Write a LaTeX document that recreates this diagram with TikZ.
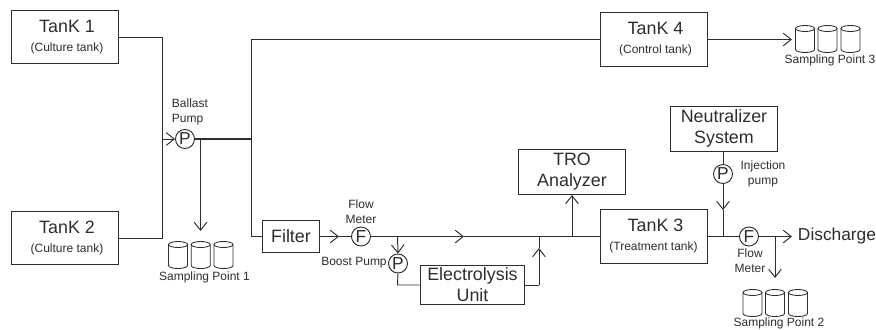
\documentclass[tikz,border=0pt]{standalone}
\usepackage{fontspec}
\setmainfont{Liberation Sans}
\usepackage{xcolor}
\definecolor{pipegray}{RGB}{45,45,45}
\usepackage{tikz}
\usetikzlibrary{arrows.meta}
\newcommand{\smalltext}{\fontsize{9}{11}\selectfont}
\tikzset{
pipe/.style={draw=pipegray,line width=0.72pt},
chevron/.style={pipe,-{Straight Barb[length=6pt,width=9.5pt]}},
tankbox/.style={draw=pipegray,line width=0.72pt,text=pipegray,minimum width=80.25pt,minimum height=40pt,inner sep=0pt,align=center,font=\fontsize{13.4}{15.75}\selectfont},
unitbox/.style={tankbox,minimum height=33.75pt},
roundnode/.style={circle,draw=pipegray,line width=0.72pt,text=pipegray,minimum size=14.25pt,inner sep=0pt,font=\fontsize{13}{14}\selectfont},
caption/.style={text=pipegray,inner sep=0pt,align=center,font=\fontsize{9}{11}\selectfont},
drum/.pic={
\draw [pipe,line width=0.65pt] (-9.5,-10.5) -- (-9.5,10.5) arc [start angle=180,end angle=0,x radius=9.5,y radius=3] -- (9.5,-10.5);
\draw [pipe,line width=0.65pt] (0,-10.5) ellipse [x radius=9.5,y radius=3];
}
}

\begin{document}
\begin{tikzpicture}[x=0.75pt,y=-0.75pt]
\useasboundingbox (0,0) rectangle (876,329);

\node (tank1) at (65,37.25) [tankbox] {\hspace*{3pt}TanK 1\\[-1.5pt]{\smalltext\hspace*{3pt}(Culture tank)}};
\node (tank2) at (65,238.25) [tankbox] {\hspace*{3pt}TanK 2\\[-1.5pt]{\smalltext\hspace*{3pt}(Culture tank)}};
\node (tank4) at (653.5,39.5) [tankbox] {\hspace*{3pt}TanK 4\\[-1.5pt]{\smalltext\hspace*{3pt}(Control tank)}};
\node (tank3) at (653.5,236.5) [tankbox] {\hspace*{3pt}TanK 3\\[-1.5pt]{\smalltext (Treatment tank)}};
\node (neutralizer) at (724,128.5) [unitbox] {Neutralizer\\System};
\node (troAnalyzer) at (572,172) [unitbox] {TRO\\Analyzer};
\node (filter) at (291,236.5) [tankbox,minimum width=43pt,minimum height=24.5pt] {Filter};
\node (electrolysis) at (472.5,285) [unitbox,minimum width=78.5pt,minimum height=29pt] {Electrolysis\\Unit};

\node (ballastPump) at (185,139) [roundnode] {P};
\node (flowMeterA) at (361,236.5) [roundnode] {F};
\node (boostPump) at (398,263.5) [roundnode] {P};
\node (injectionPump) at (723,174) [roundnode] {P};
\node (flowMeterB) at (749,236.5) [roundnode] {F};

\node (ballastLabel) at (190,112) [caption,align=left] {Ballast\\Pump};
\node (flowLabelA) at (361,212) [caption] {Flow\\Meter};
\node (boostLabel) at (354,263) [caption] {Boost Pump};
\node (injectionLabel) at (763,174) [caption] {Injection\\pump};
\node (flowLabelB) at (750,260.5) [caption] {Flow\\Meter};
\node (dischargeLabel) at (837,236) [inner sep=0pt,text=pipegray,font=\fontsize{13}{15}\selectfont] {Discharge};

\pic at (178,255) {drum};
\pic at (200.7,255) {drum};
\pic at (223.5,255) {drum};
\node (pointLabelA) at (204.5,277) [caption] {Sampling Point 1};
\pic at (752.5,303) {drum};
\pic at (775,303) {drum};
\pic at (798,303) {drum};
\node (pointLabelB) at (779,323) [caption] {Sampling Point 2};
\pic at (805,39) {drum};
\pic at (827.5,39) {drum};
\pic at (850.5,39) {drum};
\node (pointLabelC) at (830,60) [caption] {Sampling Point 3};

\coordinate (mergeJoin) at (162.5,139);
\coordinate (pumpSplit) at (200.5,139);
\coordinate (mainSplit) at (251,139);
\coordinate (mainTop) at (251,39.5);
\coordinate (mainLow) at (251,236.5);
\coordinate (pointTipA) at (200.5,231);
\coordinate (pointTipC) at (792,39.5);
\coordinate (filterTip) at (339,236.5);
\coordinate (lineTip) at (464,236.5);
\coordinate (boostSplit) at (397.5,236.5);
\coordinate (boostTop) at (397.5,254);
\coordinate (boostBend) at (397.5,285);
\coordinate (returnBend) at (539,285);
\coordinate (returnTip) at (539,248);
\coordinate (returnJoin) at (539,236.5);
\coordinate (troSplit) at (572,236.5);
\coordinate (injectionTip) at (723,210);
\coordinate (injectionJoin) at (723,236.5);
\coordinate (dischargeTip) at (792,236.5);
\coordinate (pointSplitB) at (775,236.5);
\coordinate (pointTipB) at (775,278);

\draw [pipe] (tank1.east) -| (mergeJoin);
\draw [pipe] (tank2.east) -| (mergeJoin);
\draw [chevron] (mergeJoin) -- (ballastPump.west);
\draw [pipe,line width=1pt] (ballastPump.east) -- (mainSplit);
\draw [chevron] (pumpSplit) -- (pointTipA);
\draw [pipe] (mainSplit) -- (mainTop) -- (tank4.west);
\draw [pipe] (mainSplit) -- (mainLow) -- (filter.west);
\draw [chevron] (tank4.east) -- (pointTipC);

\draw [chevron] (filter.east) -- (filterTip);
\draw [pipe] (filterTip) -- (flowMeterA.west);
\draw [chevron] (flowMeterA.east) -- (lineTip);
\draw [pipe] (lineTip) -- (tank3.west);
\draw [chevron] (boostSplit) -- (boostPump.north);
\draw [pipe] (boostPump.south) -- (boostBend) -- (electrolysis.west);
\draw [pipe] (electrolysis.east) -- (returnBend);
\draw [chevron] (returnBend) -- (returnTip);
\draw [pipe] (returnTip) -- (returnJoin);
\draw [chevron] (troSplit) -- (troAnalyzer.south);

\draw [pipe] (neutralizer.south -| injectionPump) -- (injectionPump.north);
\draw [chevron] (injectionPump.south) -- (injectionTip);
\draw [pipe] (injectionTip) -- (injectionJoin);
\draw [pipe] (tank3.east) -- (flowMeterB.west);
\draw [chevron] (flowMeterB.east) -- (dischargeTip);
\draw [chevron] (pointSplitB) -- (pointTipB);
\end{tikzpicture}
\end{document}
